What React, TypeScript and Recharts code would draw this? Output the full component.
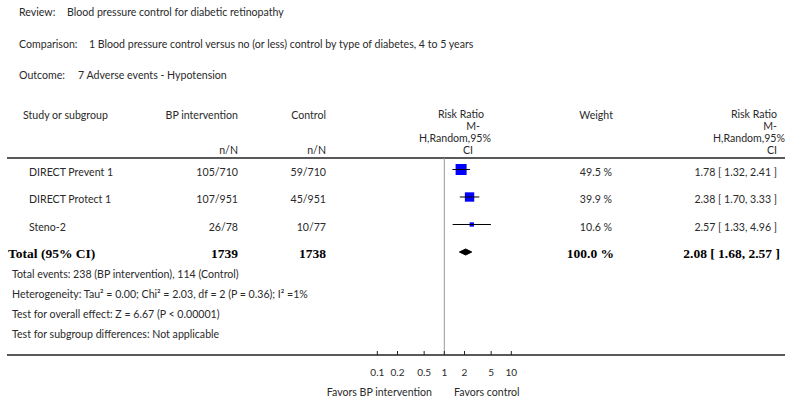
import { ComposedChart, Scatter, XAxis, YAxis, ErrorBar, ReferenceLine } from 'recharts'

const studies = ['DIRECT Prevent 1', 'DIRECT Protect 1', 'Steno-2']
const bpEvents = [105, 107, 26]
const bpTotal = [710, 951, 78]
const ctlEvents = [59, 45, 10]
const ctlTotal = [710, 951, 77]
const weights = [49.5, 39.9, 10.6]
const riskRatio = [1.78, 2.38, 2.57]
const ciLow = [1.32, 1.70, 1.33]
const ciHigh = [2.41, 3.33, 4.96]

const totalBp = 1739
const totalCtl = 1738
const totalWeight = 100.0
const totalRR = 2.08
const totalLow = 1.68
const totalHigh = 2.57

const xTicks = [0.1, 0.2, 0.5, 1, 2, 5, 10]

const SANS = 'Lato, "Open Sans", sans-serif'
const SERIF = '"Liberation Serif", "DejaVu Serif", serif'
const INK = '#2a2a2a'
const BLUE = '#0000ff'

// diamond half height, in row units
const DIAMOND_H = 0.11
const TOTAL_ROW = studies.length

const studyPoints = studies.map((s, i) => ({
  name: s,
  x: riskRatio[i],
  y: i,
  err: [riskRatio[i] - ciLow[i], ciHigh[i] - riskRatio[i]],
  w: weights[i],
}))

const diamond = [
  { x: totalLow, y: TOTAL_ROW },
  { x: totalRR, y: TOTAL_ROW - DIAMOND_H },
  { x: totalHigh, y: TOTAL_ROW },
  { x: totalRR, y: TOTAL_ROW + DIAMOND_H },
  { x: totalLow, y: TOTAL_ROW },
]

const fmt = (v: number) => v.toFixed(2)

function StudySquare(props: any) {
  const { cx, cy, payload } = props
  const s = 2.5 + 8.5 * (payload.w / weights[0])
  return (
    <g>
      <rect x={cx - s / 2} y={cy - s / 2} width={s} height={s} fill={BLUE} />
      <line x1={cx - s / 2} x2={cx + s / 2} y1={cy} y2={cy} stroke="#000" strokeWidth={1} />
    </g>
  )
}

function Tick(props: any) {
  const { x, y, payload } = props
  return (
    <g>
      <line x1={x} x2={x} y1={y - 4} y2={y} stroke="#222" strokeWidth={1} />
      <text x={x} y={y + 21} textAnchor="middle" fontFamily={SANS} fontSize={10} fill={INK}>
        {payload.value}
      </text>
    </g>
  )
}

function T({ x, y, children, anchor = 'start', bold = false, serif = false, size = 10.6 }: any) {
  return (
    <text
      x={x}
      y={y}
      textAnchor={anchor}
      dominantBaseline="central"
      fontFamily={serif ? SERIF : SANS}
      fontWeight={bold ? 'bold' : 'normal'}
      fontSize={size}
      fill={bold ? '#000' : INK}
    >
      {children}
    </text>
  )
}

const rowY = [171.5, 199, 226.5]

export default function App() {
  return (
    <div style={{ position: 'absolute', left: 0, top: 0, width: 800, height: 403, background: '#fff' }}>
      <ComposedChart width={800} height={403} margin={{ top: 158, right: 15, bottom: 8, left: 7 }}>
        <XAxis
          type="number"
          dataKey="x"
          scale="log"
          domain={[2.97e-7, 1.216e5]}
          allowDataOverflow
          ticks={xTicks}
          interval={0}
          tick={<Tick />}
          tickLine={false}
          tickSize={0}
          tickMargin={0}
          axisLine={{ stroke: '#222', strokeWidth: 1.5 }}
          height={40}
        />
        <YAxis type="number" dataKey="y" domain={[-0.418, 6.745]} reversed hide allowDataOverflow />
        <ReferenceLine x={1} stroke="#999" strokeWidth={1} />
        <Scatter data={studyPoints} shape={<StudySquare />} isAnimationActive={false}>
          <ErrorBar dataKey="err" direction="x" width={0} stroke="#000" strokeWidth={1} />
        </Scatter>
        <Scatter
          data={diamond}
          shape={() => <g />}
          line={{ stroke: '#000', fill: '#000', strokeWidth: 1 }}
          lineJointType="linear"
          isAnimationActive={false}
        />

        <g>
          <T x={19} y={12}>Review:</T>
          <T x={67} y={12}>Blood pressure control for diabetic retinopathy</T>
          <T x={19} y={44}>Comparison:</T>
          <T x={89} y={44}>1 Blood pressure control versus no (or less) control by type of diabetes, 4 to 5 years</T>
          <T x={19} y={75}>Outcome:</T>
          <T x={78} y={75}>7 Adverse events - Hypotension</T>

          <T x={23} y={115}>Study or subgroup</T>
          <T x={238} y={115} anchor="end">BP intervention</T>
          <T x={326} y={115} anchor="end">Control</T>
          <T x={238} y={150} anchor="end">n/N</T>
          <T x={326} y={150} anchor="end">n/N</T>
          <T x={484} y={114} anchor="end">Risk Ratio</T>
          <T x={480} y={126} anchor="end">M-</T>
          <T x={491} y={138} anchor="end">H,Random,95%</T>
          <T x={473} y={150} anchor="end">CI</T>
          <T x={613} y={115} anchor="end">Weight</T>
          <T x={777} y={114} anchor="end">Risk Ratio</T>
          <T x={777} y={126} anchor="end">M-</T>
          <T x={785} y={138} anchor="end">H,Random,95%</T>
          <T x={777} y={150} anchor="end">CI</T>
          <line x1={7} x2={785} y1={158} y2={158} stroke="#222" strokeWidth={1.5} />

          {studies.map((s, i) => (
            <g key={s}>
              <T x={29} y={rowY[i]}>{s}</T>
              <T x={238} y={rowY[i]} anchor="end">{`${bpEvents[i]}/${bpTotal[i]}`}</T>
              <T x={326} y={rowY[i]} anchor="end">{`${ctlEvents[i]}/${ctlTotal[i]}`}</T>
              <T x={612} y={rowY[i]} anchor="end">{`${weights[i].toFixed(1)} %`}</T>
              <T x={777} y={rowY[i]} anchor="end">{`${fmt(riskRatio[i])} [ ${fmt(ciLow[i])}, ${fmt(ciHigh[i])} ]`}</T>
            </g>
          ))}

          <T x={8} y={253} bold serif size={13.5}>Total (95% CI)</T>
          <T x={238} y={253} anchor="end" bold serif size={13.5}>{totalBp}</T>
          <T x={326} y={253} anchor="end" bold serif size={13.5}>{totalCtl}</T>
          <T x={614} y={253} anchor="end" bold serif size={13.5}>{`${totalWeight.toFixed(1)} %`}</T>
          <T x={780} y={253} anchor="end" bold serif size={13.5}>{`${fmt(totalRR)} [ ${fmt(totalLow)}, ${fmt(totalHigh)} ]`}</T>

          <T x={12} y={274}>Total events: 238 (BP intervention), 114 (Control)</T>
          <T x={12} y={294}>Heterogeneity: Tau² = 0.00; Chi² = 2.03, df = 2 (P = 0.36); I² =1%</T>
          <T x={12} y={314}>Test for overall effect: Z = 6.67 (P &lt; 0.00001)</T>
          <T x={12} y={334}>Test for subgroup differences: Not applicable</T>

          <T x={432} y={392} anchor="end">Favors BP intervention</T>
          <T x={454} y={392}>Favors control</T>
        </g>
      </ComposedChart>
    </div>
  )
}
